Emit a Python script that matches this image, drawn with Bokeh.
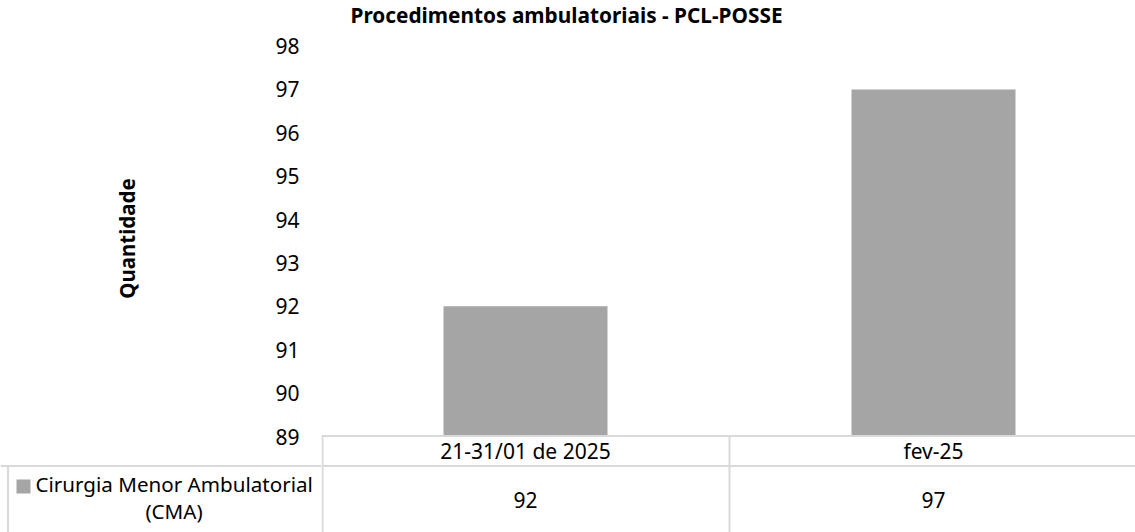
import math
from bokeh.plotting import figure
from bokeh.models import Range1d, ColumnDataSource, FixedTicker
from bokeh.layouts import row
from bokeh.embed import file_html
from bokeh.resources import INLINE
from bokeh.core.properties import value

# ---- data ----
categories = ["21-31/01 de 2025", "fev-25"]
values = [92, 97]
series_lines = ["Cirurgia Menor Ambulatorial", "(CMA)"]
y_ticks = [89, 90, 91, 92, 93, 94, 95, 96, 97, 98]
title_text = "Procedimentos ambulatoriais - PCL-POSSE"
y_label = "Quantidade"

FONT = "Noto Sans"
BAR = "#A5A5A5"
LINE = "#D9D9D9"
TXT = "#000000"

W, H = 1135, 532
LEFT = 321          # plot frame left (px) = width of the left figure
TOP_PX = 45.5       # pixel row of the highest tick
BASE_PX = 436       # pixel row of the lowest tick
CAT_W = 408         # px per category
HDR_TOP = 435.5
HDR_BOT = 465.5
n = len(categories)
ymin, ymax = y_ticks[0], y_ticks[-1]
uy = (ymax - ymin) / (BASE_PX - TOP_PX)   # value units per px
ux = 1.0 / CAT_W


def X(px):
    return (px - LEFT) * ux


def Y(py):
    return ymin - (py - BASE_PX) * uy


yr = Range1d(Y(H), Y(0))

# ---------------- main plot (bars + data table) ----------------
p = figure(width=W - LEFT, height=H, output_backend="svg", toolbar_location=None,
           x_range=Range1d(0, (W - LEFT) * ux), y_range=yr, min_border=0,
           x_axis_location=None, y_axis_location=None)
p.outline_line_color = None
p.grid.visible = False

xs = [i + 0.5 for i in range(n)]
src = ColumnDataSource(dict(x=xs, top=values))
p.vbar(x="x", top="top", bottom=ymin, width=164 * ux, source=src,
       fill_color=BAR, line_color=None)

p.text(x=[X(350)], y=[Y(14)], text=[title_text], text_font=value(FONT), text_font_size="20.8px",
       text_font_style="bold", text_align="left", text_baseline="middle", text_color=TXT)

xe = (W - LEFT) * ux
p.segment(x0=[0, 0, 1 * ux] + [float(i) for i in range(1, n)],
          y0=[Y(HDR_TOP), Y(HDR_BOT), Y(HDR_TOP)] + [Y(HDR_TOP)] * (n - 1),
          x1=[xe, xe, 1 * ux] + [float(i) for i in range(1, n)],
          y1=[Y(HDR_TOP), Y(HDR_BOT), Y(H)] + [Y(H)] * (n - 1),
          line_color=LINE, line_width=2)
p.text(x=xs, y=[Y(450)] * n, text=categories, text_font=value(FONT), text_font_size="21px",
       text_align="center", text_baseline="middle", text_color=TXT)
p.text(x=xs, y=[Y(499)] * n, text=[str(v) for v in values], text_font=value(FONT),
       text_font_size="21px", text_align="center", text_baseline="middle", text_color=TXT)

# ---------------- left part: value axis, axis title, series cell ----------------
L = figure(width=LEFT, height=H, output_backend="svg", toolbar_location=None,
           x_range=Range1d(0, LEFT), y_range=yr, min_border=0,
           x_axis_location=None, y_axis_location="right")
L.outline_line_color = None
L.grid.visible = False

ya = L.yaxis[0]
ya.ticker = FixedTicker(ticks=y_ticks)
ya.axis_line_color = None
ya.major_tick_line_color = None
ya.minor_tick_line_color = None
ya.major_tick_in = 0
ya.major_tick_out = 0
ya.minor_tick_in = 0
ya.minor_tick_out = 0
ya.major_label_standoff = -46
ya.major_label_text_font = FONT
ya.major_label_text_font_size = "21px"
ya.major_label_text_color = TXT

L.text(x=[126], y=[Y(238)], text=[y_label], angle=math.pi / 2, text_font=value(FONT),
       text_font_size="20.5px", text_font_style="bold", text_align="center",
       text_baseline="middle", text_color=TXT)
L.segment(x0=[0, 7.5], y0=[Y(HDR_BOT), Y(HDR_BOT)], x1=[LEFT, 7.5], y1=[Y(HDR_BOT), Y(H)],
          line_color=LINE, line_width=2)
L.rect(x=[23], y=[Y(486)], width=14, height=14 * uy, fill_color=BAR, line_color=None)
L.text(x=[35], y=[Y(483)], text=[series_lines[0]], text_font=value(FONT), text_font_size="20.6px",
       text_align="left", text_baseline="middle", text_color=TXT)
L.text(x=[173.5], y=[Y(510)], text=[series_lines[1]], text_font=value(FONT), text_font_size="20.6px",
       text_align="center", text_baseline="middle", text_color=TXT)

layout = row(L, p, spacing=0)
open("out.html", "w").write(file_html(layout, INLINE))
